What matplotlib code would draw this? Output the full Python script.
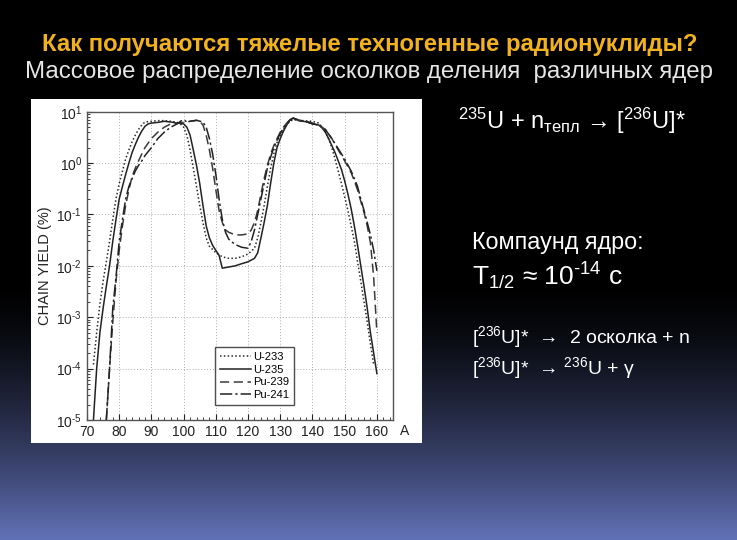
"""Массовое распределение осколков деления: слайд с графиком выхода цепочек."""

import matplotlib
matplotlib.use("Agg")
import matplotlib.pyplot as plt
import numpy as np
from matplotlib.patches import Rectangle
from matplotlib.ticker import MultipleLocator, LogLocator, NullFormatter, FuncFormatter

plt.rcParams["font.family"] = ["Liberation Sans", "DejaVu Sans"]
plt.rcParams["mathtext.fontset"] = "custom"
plt.rcParams["mathtext.rm"] = "Liberation Sans"
plt.rcParams["mathtext.it"] = "Liberation Sans:italic"
plt.rcParams["mathtext.bf"] = "Liberation Sans:bold"

# --- данные (A, выход %) ---
a_u233 = [72, 73, 74, 75, 76, 77, 78, 79, 80, 81, 82, 83, 84, 85, 86, 87, 88,
          90, 92, 94, 96, 98, 99, 100, 101, 102, 103, 104, 105, 106, 107, 108,
          110, 112, 114, 116, 118, 120, 122, 123, 124, 125, 126, 127, 128, 129,
          130, 131, 132, 133, 134, 136, 138, 140, 142, 143, 144, 145, 146, 147,
          148, 149, 150, 151, 152, 153, 154, 155, 156, 157, 158, 159]
y_u233 = [1.2e-4, 5e-4, 1.8e-3, 5e-3, 0.012, 0.03, 0.08, 0.2, 0.4, 0.7, 1.2, 1.8,
          2.6, 3.5, 4.5, 5.5, 6.3, 6.5, 6.7, 6.7, 6.5, 6.2, 5.8, 5.0, 3.5, 1.8,
          0.8, 0.35, 0.15, 0.07, 0.035, 0.024, 0.018, 0.015, 0.014, 0.014,
          0.015, 0.017, 0.022, 0.035, 0.07, 0.15, 0.35, 0.8, 1.5, 2.5, 3.5, 4.5,
          5.5, 6.5, 7.0, 6.8, 6.6, 6.5, 6.0, 5.0, 4.0, 3.0, 2.0, 1.2, 0.7, 0.4,
          0.22, 0.12, 0.06, 0.03, 0.012, 0.005, 0.002, 8e-4, 3e-4, 1.2e-4]

a_u235 = [72, 73, 74, 75, 76, 77, 78, 79, 80, 81, 82, 83, 84, 85, 86, 87, 88,
          89, 90, 92, 94, 96, 98, 100, 101, 102, 103, 104, 105, 106, 107, 108,
          109, 110, 111, 112, 114, 116, 118, 120, 122, 123, 124, 125, 126, 127,
          128, 129, 130, 131, 132, 133, 134, 135, 136, 138, 140, 142, 143, 144,
          145, 146, 147, 148, 149, 150, 151, 152, 153, 154, 155, 156, 157, 158,
          159, 160]
y_u235 = [1e-5, 1e-4, 5e-4, 1.5e-3, 4e-3, 0.01, 0.03, 0.08, 0.2, 0.35, 0.6, 1.0,
          1.6, 2.3, 3.2, 4.2, 5.2, 5.8, 6.0, 6.2, 6.5, 6.3, 6.0, 5.8, 5.0, 3.5,
          1.8, 0.9, 0.4, 0.15, 0.06, 0.035, 0.025, 0.02, 0.016, 0.009, 0.0095,
          0.01, 0.011, 0.012, 0.014, 0.018, 0.035, 0.07, 0.15, 0.4, 1.0, 2.0,
          3.0, 4.2, 5.5, 7.0, 7.5, 7.0, 6.6, 6.4, 5.8, 5.5, 4.8, 4.0, 3.0, 2.2,
          1.6, 1.1, 0.75, 0.45, 0.25, 0.13, 0.06, 0.025, 0.01, 0.004, 0.0015,
          5e-4, 2e-4, 8e-5]

a_pu239 = [76, 77, 78, 79, 80, 81, 82, 83, 84, 85, 86, 87, 88, 90, 92, 94, 96,
           98, 100, 102, 104, 105, 106, 107, 108, 109, 110, 111, 112, 113, 114,
           116, 118, 120, 121, 122, 123, 124, 125, 126, 127, 128, 129, 130, 131,
           132, 133, 134, 136, 138, 140, 142, 144, 146, 148, 150, 151, 152, 153,
           154, 155, 156, 157, 158, 159, 160]
y_pu239 = [1e-5, 1e-4, 8e-4, 5e-3, 0.02, 0.06, 0.15, 0.3, 0.55, 0.8, 1.1, 1.5,
           2.0, 3.0, 4.0, 5.0, 5.8, 6.0, 6.2, 6.5, 6.8, 6.5, 5.5, 3.5, 1.8, 0.8,
           0.3, 0.12, 0.07, 0.05, 0.045, 0.04, 0.04, 0.042, 0.05, 0.07, 0.12,
           0.25, 0.5, 0.9, 1.5, 2.2, 3.0, 4.0, 5.0, 6.0, 7.0, 7.5, 6.8, 6.5, 6.0,
           5.5, 4.5, 3.0, 1.8, 1.1, 0.85, 0.65, 0.45, 0.3, 0.18, 0.11, 0.06,
           0.028, 0.006, 5e-4]

a_pu241 = [76, 77, 78, 79, 80, 81, 82, 83, 84, 85, 86, 87, 88, 90, 92, 94, 96,
           98, 99, 100, 101, 102, 104, 106, 107, 108, 109, 110, 111, 112, 113,
           114, 116, 118, 120, 121, 122, 123, 124, 125, 126, 127, 128, 129, 130,
           131, 132, 133, 134, 136, 138, 140, 142, 144, 146, 148, 150, 152, 153,
           154, 155, 156, 157, 158, 159, 160]
y_pu241 = [1e-5, 1e-4, 1.5e-3, 6e-3, 0.03, 0.08, 0.2, 0.35, 0.5, 0.7, 0.9, 1.1,
           1.4, 2.0, 3.0, 4.0, 5.0, 5.8, 6.5, 7.0, 6.3, 6.5, 6.8, 6.3, 5.0, 3.0,
           1.5, 0.6, 0.2, 0.08, 0.045, 0.033, 0.026, 0.023, 0.022, 0.03, 0.05,
           0.1, 0.2, 0.4, 0.8, 1.3, 2.0, 2.8, 3.8, 4.8, 5.8, 6.8, 7.5, 6.8, 6.4,
           5.8, 5.5, 4.5, 3.0, 1.9, 1.2, 0.7, 0.5, 0.35, 0.2, 0.12, 0.07, 0.04,
           0.02, 0.008]

x_ticks = [70, 80, 90, 100, 110, 120, 130, 140, 150, 160]

W, H = 737, 540
fig = plt.figure(figsize=(W / 100, H / 100), dpi=100)

# фон слайда: чёрный сверху, синий градиент снизу
bg = fig.add_axes([0, 0, 1, 1], zorder=-5)
rows = np.arange(H)
t = np.clip((rows - 280) / 260, 0, 1) ** 1.5
top = np.array([0, 0, 0]) / 255
bottom = np.array([98, 114, 184]) / 255
grad = top[None, :] * (1 - t[:, None]) + bottom[None, :] * t[:, None]
bg.imshow(np.repeat(grad[:, None, :], 2, axis=1), aspect="auto",
          extent=[0, W, H, 0], interpolation="bilinear")
bg.add_patch(Rectangle((31, 99), 391, 344, facecolor="white", edgecolor="none"))
bg.set_xlim(0, W)
bg.set_ylim(H, 0)
bg.axis("off")

# заголовки
fig.text(370 / W, 1 - 45 / H, "Как получаются тяжелые техногенные радионуклиды?",
         color="#f2b21e", fontsize=17.2, fontweight="bold", ha="center", va="center")
fig.text(369 / W, 1 - 72 / H, "Массовое распределение осколков деления  различных ядер",
         color="#e6e6e6", fontsize=17.3, ha="center", va="center")


def log_label(v, pos):
    e = int(round(np.log10(v)))
    if e < 0:
        return r"$10^{\text{-}%d}$" % (-e)
    return r"$10^{%d}$" % e


# график
ax = fig.add_axes([87 / W, 1 - 420 / H, 306 / W, 308.3 / H])
ax.plot(a_u233, y_u233, color="#2a2a2a", lw=1.1, ls=(0, (1, 1.5)), label="U-233")
ax.plot(a_u235, y_u235, color="#222222", lw=1.1, ls="-", label="U-235")
ax.plot(a_pu239, y_pu239, color="#3a3a3a", lw=1.1, ls=(0, (6, 3)), label="Pu-239")
ax.plot(a_pu241, y_pu241, color="#222222", lw=1.1, ls=(0, (8, 2, 1.5, 2)), label="Pu-241")
ax.set_yscale("log")
ax.set_xlim(70, 165)
ax.set_ylim(1e-5, 10)
ax.set_xticks(x_ticks)
ax.xaxis.set_minor_locator(MultipleLocator(2))
ax.yaxis.set_major_formatter(FuncFormatter(log_label))
ax.yaxis.set_minor_locator(LogLocator(base=10, subs=np.arange(2, 10)))
ax.yaxis.set_minor_formatter(NullFormatter())
ax.tick_params(which="both", direction="in", labelsize=10, colors="#222222")
ax.tick_params(which="major", length=4)
ax.tick_params(which="minor", length=2)
ax.grid(True, which="major", color="#b0b0b0", ls=(0, (1, 2)), lw=0.7)
for s in ax.spines.values():
    s.set_color("#555555")
    s.set_linewidth(1.0)
ax.set_ylabel("CHAIN YIELD (%)", fontsize=10.5, color="#222222", labelpad=3)
ax.text(1.023, -0.037, "A", transform=ax.transAxes, fontsize=10,
        color="#222222", ha="left", va="center")
leg = ax.legend(loc="lower left", bbox_to_anchor=(0.40, 0.03), fontsize=8,
                frameon=True, fancybox=False, handlelength=2.8, handletextpad=0.2,
                borderpad=0.45, labelspacing=0.25)
leg.get_frame().set_edgecolor("#222222")
leg.get_frame().set_linewidth(1.0)

# текст справа
fig.text(458 / W, 1 - 121 / H, r"$^{235}$U + n$_{\mathrm{тепл}}$ → [$^{236}$U]*",
         color="white", fontsize=17, ha="left", va="center")
fig.text(472 / W, 1 - 243 / H, "Компаунд ядро:", color="white", fontsize=16.8,
         ha="left", va="center")
fig.text(472 / W, 1 - 276 / H, r"T$_{1/2}$ ≈ 10$^{\text{-}14}$ c", color="white",
         fontsize=19, ha="left", va="center")
fig.text(472 / W, 1 - 337 / H, r"[$^{236}$U]*  →  2 осколка + n", color="white",
         fontsize=14, ha="left", va="center")
fig.text(472 / W, 1 - 368 / H, r"[$^{236}$U]*  → $^{236}$U + γ", color="white",
         fontsize=14, ha="left", va="center")

fig.savefig("out.png", dpi=100)
